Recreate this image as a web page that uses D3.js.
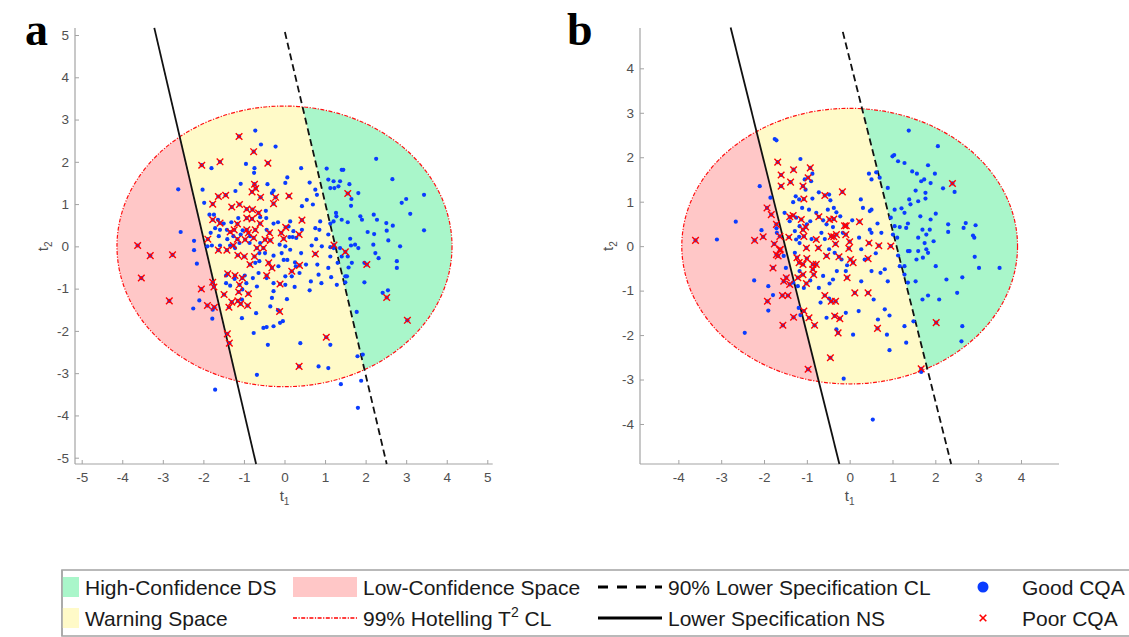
<!DOCTYPE html>
<html>
<head>
<meta charset="utf-8">
<script src="https://cdn.jsdelivr.net/npm/d3@7"></script>
<style>
  body { margin: 0; background: #fff; }
  svg { display: block; font-family: "Liberation Sans", Arial, sans-serif; }
</style>
</head>
<body>
<svg id="chart" width="1129" height="637"></svg>
<script>
// ---- data ----
const xTicksA = [-5, -4, -3, -2, -1, 0, 1, 2, 3, 4, 5];
const yTicksA = [-5, -4, -3, -2, -1, 0, 1, 2, 3, 4, 5];
const xTicksB = [-4, -3, -2, -1, 0, 1, 2, 3, 4];
const yTicksB = [-4, -3, -2, -1, 0, 1, 2, 3, 4];

// 99% Hotelling T2 ellipse half-axes [t1, t2]
const ellipseA = [4.13, 3.32];
const ellipseB = [3.92, 3.10];

// line end points [t1, t2]
const nsLineA = [[-3.21, 5.17], [-0.70, -5.15]];
const clLineA = [[0.01, 5.07], [2.52, -5.15]];
const nsLineB = [[-2.78, 4.92], [-0.24, -4.90]];
const clLineB = [[-0.16, 4.82], [2.37, -4.90]];

const goodA = [
  [-2.62,1.35],[-2.56,0.34],[-2.23,0.13],[-2.23,-0.09],[-2.16,-0.41],[-2.10,-1.28],[-2.25,-1.47],[-1.77,-1.50],
  [-1.78,-1.71],[-1.71,-3.39],[-0.72,2.74],[-0.58,2.41],[-0.22,2.36],[-1.80,1.85],[-0.95,1.95],[-0.74,1.85],
  [-0.75,1.74],[0.07,1.63],[0.41,1.85],[-2.02,1.34],[-1.08,1.48],[-0.42,1.47],[0.02,1.50],[-0.27,1.32],
  [-1.21,1.31],[-0.31,1.26],[-1.98,1.03],[-0.46,0.84],[-1.14,0.67],[-1.85,0.75],[-1.74,0.75],[-1.64,0.63],
  [-1.50,0.54],[-1.31,0.57],[-1.42,0.39],[-1.59,0.39],[-1.71,0.43],[-1.82,0.32],[-1.62,0.24],[-1.41,0.17],
  [-1.26,0.24],[-1.08,0.28],[-1.03,0.38],[-0.85,0.24],[-1.22,-0.04],[-1.79,0.02],[-1.90,0.00],[-1.59,0.02],
  [-1.34,0.02],[-1.11,0.08],[-0.86,0.08],[-0.60,0.08],[-0.44,0.39],[-0.27,0.54],[-0.45,0.67],[-0.60,0.69],
  [-0.16,0.57],[0.14,0.59],[0.10,0.47],[0.22,0.36],[0.29,0.20],[0.12,0.22],[0.20,0.22],[-0.12,0.04],
  [0.02,0.00],[0.43,0.39],[0.43,0.95],[0.55,1.10],[0.70,0.99],[0.62,1.51],[0.76,1.34],[0.80,1.22],
  [0.41,-0.16],[0.67,0.02],[0.78,0.17],[0.86,0.39],[0.88,0.59],[0.76,0.43],[1.08,0.28],[1.13,-0.02],
  [0.92,0.00],[1.13,-0.24],[0.81,-0.43],[1.08,-0.51],[0.53,-0.43],[0.14,-0.08],[-0.07,-0.16],[-0.27,-0.22],
  [-0.48,-0.16],[-0.62,-0.16],[-0.72,-0.39],[-0.62,-0.35],[-0.02,-0.32],[0.07,-0.32],[0.26,-0.38],[0.28,-0.47],
  [-0.15,-0.47],[0.02,-0.71],[0.18,-0.71],[0.37,-0.63],[0.84,-0.67],[1.15,-0.73],[0.91,-0.87],[0.65,-0.83],
  [0.62,-1.04],[0.25,-0.96],[-0.44,-0.75],[-0.64,-0.63],[-0.78,-0.75],[-0.98,-0.69],[-1.23,-0.77],[-1.44,-0.69],
  [-1.44,-0.87],[-1.34,-0.93],[-0.94,-0.87],[-0.68,-0.95],[-0.27,-0.87],[0.02,-0.91],[-0.27,-1.06],[-0.31,-1.22],
  [0.06,-1.25],[-1.04,-1.02],[-1.05,-1.26],[-0.35,-1.42],[-0.70,-1.58],[-1.05,-1.70],[-0.16,-1.51],[-0.04,-1.77],
  [-0.11,-1.81],[-0.52,-1.93],[-0.44,-1.91],[-0.27,-1.89],[-0.76,-2.05],[-0.41,-2.33],[0.39,-2.29],[0.84,-2.84],
  [1.08,-2.88],[-0.68,-3.04],[1.13,-2.33],
  [2.26,2.07],[1.04,1.84],[1.41,1.81],[1.45,1.81],[2.66,1.59],[1.08,1.58],[1.13,1.38],[1.21,1.54],
  [1.37,1.54],[1.60,1.47],[1.23,1.38],[1.33,1.42],[1.82,1.26],[1.65,1.12],[1.64,0.96],[2.89,1.03],
  [3.00,1.12],[3.44,1.22],[3.10,0.77],[1.27,0.79],[1.28,0.71],[1.21,0.59],[1.13,0.54],[1.41,0.63],
  [1.56,0.57],[1.87,0.71],[1.91,0.63],[2.20,0.75],[2.28,0.63],[2.51,0.55],[2.67,0.49],[2.05,0.34],
  [2.21,0.29],[2.52,0.37],[3.44,0.38],[2.56,0.14],[2.19,0.04],[2.85,0.00],[1.62,0.18],[1.64,0.02],
  [1.74,0.04],[1.82,-0.04],[1.37,-0.04],[1.21,-0.04],[1.56,-0.24],[1.41,-0.24],[2.24,-0.16],[2.32,-0.28],
  [2.77,-0.35],[2.77,-0.51],[1.97,-0.39],[1.66,-0.39],[1.58,-0.50],[1.31,-0.39],[1.50,-0.71],[1.54,-0.71],
  [1.50,-0.85],[1.97,-0.85],[1.29,-0.91],[2.42,-1.10],[2.55,-1.04],[1.78,-1.55],[1.80,-2.60],[1.93,-2.56],
  [1.39,-3.26],[1.89,-3.18],[1.81,-3.82]
];

const poorA = [
  [-3.62,0.02],[-3.31,-0.22],[-2.76,-0.20],[-3.53,-0.75],[-2.84,-1.29],[-1.12,2.60],[-2.04,1.92],[-1.59,2.00],
  [-0.76,2.24],[-0.41,1.97],[-1.77,1.00],[-1.63,1.18],[-1.45,1.21],[-0.74,1.47],[-0.71,1.37],[-0.80,1.29],
  [-0.59,1.16],[-0.22,1.16],[-0.27,1.01],[0.11,1.19],[-1.30,0.93],[-1.11,0.99],[-0.93,0.88],[-0.79,0.87],
  [-0.64,0.79],[-1.77,0.63],[-1.59,0.55],[-1.16,0.53],[-0.93,0.67],[-0.80,0.65],[-0.60,0.54],[-0.93,0.39],
  [-0.89,0.32],[-0.72,0.39],[-1.24,0.39],[-1.34,0.34],[-1.89,0.17],[-1.63,-0.09],[-1.42,-0.09],[-1.26,0.02],
  [-1.16,0.17],[-0.97,0.16],[-0.76,0.20],[-0.68,-0.04],[-0.52,-0.04],[-0.48,0.16],[-0.35,0.14],[-0.37,0.32],
  [0.03,0.45],[-0.08,0.32],[-0.02,0.18],[0.43,0.62],[0.36,0.28],[-0.74,-0.24],[-1.15,-0.21],[-0.99,-0.24],
  [-0.85,-0.43],[-0.39,-0.39],[-0.31,-0.51],[-1.40,-0.65],[-1.22,-0.69],[-1.04,-0.75],[-0.44,-0.69],[0.18,-0.59],
  [0.37,-0.45],[0.76,-0.18],[-0.11,-0.89],[-1.11,-0.91],[-1.77,-0.85],[-1.74,-0.96],[-2.05,-1.01],[-1.49,-1.14],
  [-1.13,-1.08],[-0.89,-1.12],[-1.90,-1.40],[-1.73,-1.44],[-1.30,-1.32],[-1.15,-1.29],[-1.08,-1.36],[-0.91,-1.40],
  [-1.37,-1.44],[-0.12,-1.54],[-1.41,-2.07],[-1.36,-2.29],[1.03,-2.15],[0.36,-2.84],[1.22,0.03],[1.50,-0.13],
  [1.56,1.25],[2.03,-0.43],[2.52,-1.21],[3.03,-1.75]
];

const goodB = [
  [-2.66,0.55],[-3.10,0.15],[-2.10,1.35],[-2.06,0.36],[-2.23,-0.77],[-1.90,-0.90],[-1.90,-1.45],[-2.45,-1.95],
  [-1.79,-1.10],[-1.75,2.41],[-1.71,2.38],[-1.85,1.09],[-1.71,0.40],[-1.70,0.30],[-1.49,-0.49],[-1.54,-0.22],
  [-1.15,1.96],[-1.05,1.50],[-0.87,1.63],[-0.90,1.46],[-1.03,1.27],[-1.26,1.12],[-1.18,1.05],[-1.11,0.86],
  [-0.87,1.07],[-0.72,1.21],[-0.48,1.16],[-0.45,1.03],[-0.37,0.86],[-0.51,0.82],[-0.31,0.76],[-1.32,0.99],
  [-1.52,0.75],[-1.40,0.56],[-1.25,0.64],[-0.95,0.82],[-0.78,0.75],[-0.92,0.56],[-1.00,0.49],[-1.17,0.45],
  [-1.28,0.34],[-1.18,0.21],[-1.25,0.15],[-1.17,0.07],[-0.89,0.16],[-0.62,0.58],[-0.54,0.49],[-0.39,0.43],
  [-0.66,0.30],[-0.58,0.16],[-0.48,-0.07],[-0.35,-0.15],[-0.16,0.30],[-0.22,0.67],[0.06,0.58],[-0.09,-0.56],
  [-0.06,-0.43],[-0.19,-0.30],[-0.30,-0.56],[-0.39,-0.75],[-0.47,-0.84],[-0.62,-0.67],[-0.72,-0.94],[-1.28,-0.15],
  [-1.17,-0.56],[-1.32,-0.82],[-1.21,-0.90],[-1.07,-0.94],[-0.92,-0.77],[-0.68,-1.27],[-0.48,-1.18],[-0.09,-1.50],
  [-0.54,-1.61],[-0.31,-1.87],[0.08,-1.99],[-0.14,-2.98],[-1.19,-1.39],[-1.15,-1.55],[0.26,1.05],[0.31,0.86],
  [0.47,0.79],[0.51,0.82],[0.22,0.19],[0.27,-0.07],[0.35,-0.30],[0.27,-0.79],[0.51,-0.56],[0.61,-0.16],
  [0.51,0.30],[0.65,0.51],[0.74,0.30],[0.47,0.37],[0.82,-0.52],[0.72,-0.60],[0.89,-0.79],[0.56,-1.20],
  [0.21,-1.46],[0.82,-1.42],[0.93,-1.56],[0.66,-1.65],[0.87,-1.99],[0.93,-2.34],[0.54,-3.90],[1.32,-2.17],
  [1.28,-1.80],[1.67,-2.83],
  [1.38,2.60],[2.06,2.25],[1.00,2.02],[1.04,2.05],[1.13,1.91],[1.28,1.87],[1.46,1.68],[1.57,1.63],
  [1.83,1.82],[1.99,1.63],[2.18,1.30],[2.45,1.22],[0.62,1.66],[0.45,1.63],[0.51,1.50],[0.70,1.54],
  [0.89,1.31],[1.74,1.50],[1.89,1.42],[1.67,1.46],[1.77,1.20],[1.54,1.25],[1.39,1.05],[1.42,0.94],
  [1.60,1.01],[1.77,1.07],[2.01,0.73],[1.89,0.60],[1.65,0.67],[1.21,0.85],[1.28,0.75],[1.05,0.82],
  [1.36,0.51],[1.32,0.41],[1.17,0.43],[1.05,0.45],[0.96,0.64],[1.01,0.26],[1.11,0.19],[1.60,0.19],
  [1.70,0.37],[1.87,0.37],[1.79,0.26],[1.96,0.11],[1.75,0.07],[2.30,0.49],[2.30,0.32],[2.66,0.41],
  [2.71,0.52],[2.94,0.47],[2.88,0.24],[2.91,0.19],[2.92,-0.24],[3.02,-0.49],[3.50,-0.49],[2.01,-0.45],
  [1.36,-0.11],[1.40,-0.11],[1.60,-0.11],[1.79,-0.07],[1.83,-0.15],[1.71,-0.26],[1.56,-0.30],[1.13,-0.21],
  [1.17,-0.45],[1.28,-0.45],[1.28,-0.64],[1.36,-0.82],[1.54,-0.79],[2.26,-0.75],[2.63,-0.70],[2.51,-1.05],
  [1.70,-1.20],[1.83,-1.11],[2.09,-1.20],[1.49,-1.69],[2.63,-1.80],[2.61,-2.14]
];

const poorB = [
  [-3.60,0.13],[-2.22,0.13],[-2.02,0.21],[-1.93,0.86],[-1.83,0.71],[-1.68,1.89],[-1.60,1.60],[-1.60,1.35],
  [-1.38,1.44],[-1.31,1.72],[-1.09,1.35],[-0.97,1.54],[-0.92,1.76],[-1.07,1.06],[-1.71,0.49],[-1.76,0.05],
  [-1.63,0.22],[-1.40,0.66],[-1.32,0.69],[-1.63,-0.09],[-1.71,-0.19],[-1.67,-0.22],[-1.79,-0.49],[-1.62,-0.07],
  [-1.42,0.20],[-1.09,0.37],[-1.03,0.43],[-1.13,0.60],[-1.01,-0.04],[-1.07,0.22],[-0.78,0.15],[-0.73,-0.04],
  [-1.23,-0.26],[-1.18,-0.37],[-1.09,-0.41],[-0.86,-0.41],[-0.78,-0.41],[-1.00,-0.28],[-0.86,-0.52],[-0.84,-0.64],
  [-1.09,-0.64],[-1.01,-0.84],[-1.21,-0.71],[-1.48,-0.71],[-1.54,-0.79],[-1.40,-0.86],[-1.57,-1.11],[-1.44,-1.11],
  [-1.92,-1.24],[-1.56,-1.78],[-1.31,-1.60],[-1.07,-1.46],[-0.95,-1.61],[-0.82,-1.78],[-0.58,1.14],[-0.72,0.66],
  [-0.47,0.60],[-0.37,0.61],[-0.17,1.22],[-0.12,0.46],[-0.08,0.46],[-0.09,0.26],[0.00,0.10],[-0.02,-0.05],
  [0.02,-0.30],[0.08,-0.37],[-0.33,0.05],[-0.37,0.21],[-0.43,0.22],[-0.31,0.26],[-0.54,-0.22],[-0.25,-0.24],
  [-0.06,-0.71],[-0.43,-1.24],[-0.33,-1.24],[-0.58,-1.11],[-0.35,-1.57],[-0.23,-1.63],[-0.27,-1.95],[-0.45,-2.51],
  [-0.97,-2.77],[0.23,0.55],[0.45,0.07],[0.43,-0.28],[0.68,0.01],[0.96,0.00],[0.12,-1.05],[0.43,-1.05],
  [0.65,-1.85],[2.40,1.41],[2.02,-1.72],[1.67,-2.76]
];

const legendItems = [
  { label: 'High-Confidence DS', kind: 'fill', color: '#a9f6ca', col: 0, row: 0 },
  { label: 'Warning Space', kind: 'fill', color: '#fffac8', col: 0, row: 1 },
  { label: 'Low-Confidence Space', kind: 'fill', color: '#ffc7c7', col: 1, row: 0 },
  { label: '99% Hotelling T', sup: '2', tail: ' CL', kind: 'dashdot', color: '#ff0000', col: 1, row: 1 },
  { label: '90% Lower Specification CL', kind: 'dashed', color: '#000', col: 2, row: 0 },
  { label: 'Lower Specification NS', kind: 'solid', color: '#000', col: 2, row: 1 },
  { label: 'Good CQA', kind: 'dot', color: '#0a3cff', col: 3, row: 0 },
  { label: 'Poor CQA', kind: 'cross', color: '#ff0000', col: 3, row: 1 }
];

// ---- drawing ----
const svg = d3.select('#chart');
svg.append('rect').attr('width', 1129).attr('height', 637).attr('fill', '#fff');

const colors = {
  low: '#ffc7c7', warn: '#fffac8', high: '#a9f6ca',
  good: '#0a3cff', poor: '#ff0000', axis: '#a3a3a3', tick: '#505050'
};

const panels = [
  { tag: 'a', tagX: 25, left: 75, right: 492.7, xDom: [-5.165, 5.133], yDom: [-5.149, 5.166],
    xTicks: xTicksA, yTicks: yTicksA, ell: ellipseA, ns: nsLineA, cl: clLineA, good: goodA, poor: poorA },
  { tag: 'b', tagX: 567, left: 640, right: 1059, xDom: [-4.896, 4.888], yDom: [-4.90, 4.907],
    xTicks: xTicksB, yTicks: yTicksB, ell: ellipseB, ns: nsLineB, cl: clLineB, good: goodB, poor: poorB }
];

const plotTop = 28, plotBottom = 464;
const crossPath = 'M-3.3,-3.3L3.3,3.3M-3.3,3.3L3.3,-3.3';
const fmt = d => String(d);   // plain hyphen minus, as in the figure

// x position of a line at a given t2 (extrapolated from its two end points)
function lineX(pts, y) {
  const [[x1, y1], [x2, y2]] = pts;
  return x1 + (y - y1) * (x2 - x1) / (y2 - y1);
}

panels.forEach((p, i) => {
  const x = d3.scaleLinear().domain(p.xDom).range([p.left, p.right]);
  const y = d3.scaleLinear().domain(p.yDom).range([plotBottom, plotTop]);
  const g = svg.append('g');

  // clip regions to the ellipse
  const clipId = 'ell' + i;
  g.append('clipPath').attr('id', clipId)
    .append('ellipse')
      .attr('cx', x(0)).attr('cy', y(0))
      .attr('rx', x(p.ell[0]) - x(0)).attr('ry', y(0) - y(p.ell[1]));

  const Y = 12;
  const regions = [
    { c: colors.low, pts: [[-20, -Y], [-20, Y], [lineX(p.ns, Y), Y], [lineX(p.ns, -Y), -Y]] },
    { c: colors.warn, pts: [[lineX(p.ns, Y), Y], [lineX(p.cl, Y), Y], [lineX(p.cl, -Y), -Y], [lineX(p.ns, -Y), -Y]] },
    { c: colors.high, pts: [[lineX(p.cl, Y), Y], [20, Y], [20, -Y], [lineX(p.cl, -Y), -Y]] }
  ];
  g.append('g').attr('clip-path', `url(#${clipId})`)
    .selectAll('path').data(regions).join('path')
      .attr('d', d => 'M' + d.pts.map(q => [x(q[0]), y(q[1])].join(',')).join('L') + 'Z')
      .attr('fill', d => d.c);

  g.append('ellipse')
    .attr('cx', x(0)).attr('cy', y(0))
    .attr('rx', x(p.ell[0]) - x(0)).attr('ry', y(0) - y(p.ell[1]))
    .attr('fill', 'none').attr('stroke', '#ff1010').attr('stroke-width', 1.2)
    .attr('stroke-dasharray', '4,1.5,1.2,1.5');

  // axes (MATLAB style, ticks inside)
  const ax = g.append('g').attr('transform', `translate(0,${plotBottom})`)
    .call(d3.axisBottom(x).tickValues(p.xTicks).tickFormat(fmt)
      .tickSizeInner(-4).tickSizeOuter(0).tickPadding(8));
  const ay = g.append('g').attr('transform', `translate(${p.left},0)`)
    .call(d3.axisLeft(y).tickValues(p.yTicks).tickFormat(fmt)
      .tickSizeInner(-4).tickSizeOuter(0).tickPadding(6));
  [ax, ay].forEach(a => {
    a.select('.domain').attr('stroke', colors.axis).attr('stroke-width', 1.2);
    a.selectAll('.tick line').attr('stroke', colors.axis);
    a.selectAll('.tick text').attr('fill', colors.tick).attr('font-size', 13.5)
      .attr('font-family', '"Liberation Sans", Arial, sans-serif');
  });
  ax.select('.domain').attr('d', `M${p.left},0H${p.right}`);
  ay.select('.domain').attr('d', `M0,${plotTop}V${plotBottom}`);

  // specification lines
  const line = d3.line().x(d => x(d[0])).y(d => y(d[1]));
  g.append('path').attr('d', line(p.ns)).attr('fill', 'none')
    .attr('stroke', '#111').attr('stroke-width', 1.8);
  g.append('path').attr('d', line(p.cl)).attr('fill', 'none')
    .attr('stroke', '#111').attr('stroke-width', 1.8).attr('stroke-dasharray', '7,4');

  // samples
  g.append('g').selectAll('circle').data(p.good.concat(p.poor)).join('circle')
    .attr('cx', d => x(d[0])).attr('cy', d => y(d[1])).attr('r', 2.1)
    .attr('fill', colors.good);
  g.append('g').selectAll('path').data(p.poor).join('path')
    .attr('transform', d => `translate(${x(d[0])},${y(d[1])})`)
    .attr('d', crossPath).attr('fill', 'none')
    .attr('stroke', colors.poor).attr('stroke-width', 1.4);

  // axis titles
  const xl = g.append('text').attr('x', x(0)).attr('y', 501)
    .attr('text-anchor', 'middle').attr('fill', colors.tick).attr('font-size', 15);
  xl.append('tspan').text('t');
  xl.append('tspan').attr('dy', 4).attr('font-size', 10).text('1');
  const yl = g.append('text').attr('transform', `translate(${p.left - 27},${y(0)}) rotate(-90)`)
    .attr('text-anchor', 'middle').attr('fill', colors.tick).attr('font-size', 15);
  yl.append('tspan').text('t');
  yl.append('tspan').attr('dy', 4).attr('font-size', 10).text('2');

  // panel tag
  g.append('text').attr('x', p.tagX).attr('y', 45).text(p.tag)
    .attr('font-family', '"Liberation Serif", "Times New Roman", serif')
    .attr('font-weight', 'bold').attr('font-size', 46).attr('fill', '#000');
});

// ---- legend (cropped box, as in the figure) ----
const lg = svg.append('g');
const legLeft = 62;
lg.append('clipPath').attr('id', 'legclip')
  .append('rect').attr('x', legLeft).attr('y', 560).attr('width', 1129 - legLeft).attr('height', 77);
lg.append('rect').attr('x', legLeft).attr('y', 570).attr('width', 1100).attr('height', 66)
  .attr('fill', '#fff').attr('stroke', '#a8a8a8').attr('stroke-width', 1.6);

const colX = [15, 293, 598, 983];
const textX = [85, 363, 668, 1022];
const rowY = [587, 618];

const li = lg.append('g').attr('clip-path', 'url(#legclip)')
  .selectAll('g.item').data(legendItems).join('g').attr('class', 'item');
li.each(function(d) {
  const s = d3.select(this);
  const cx = colX[d.col], cy = rowY[d.row];
  if (d.kind === 'fill') {
    s.append('rect').attr('x', cx).attr('y', cy - 10).attr('width', 64).attr('height', 20).attr('fill', d.color);
  } else if (d.kind === 'dot') {
    s.append('circle').attr('cx', cx).attr('cy', cy).attr('r', 5.5).attr('fill', d.color);
  } else if (d.kind === 'cross') {
    s.append('path').attr('transform', `translate(${cx},${cy})`).attr('d', crossPath)
      .attr('stroke', d.color).attr('stroke-width', 1.6).attr('fill', 'none');
  } else {
    const ln = s.append('line').attr('x1', cx).attr('x2', cx + 64).attr('y1', cy).attr('y2', cy)
      .attr('stroke', d.color);
    if (d.kind === 'dashed') ln.attr('stroke-width', 3).attr('stroke-dasharray', '10,9');
    if (d.kind === 'solid') ln.attr('stroke-width', 3);
    if (d.kind === 'dashdot') ln.attr('stroke-width', 1.6).attr('stroke-dasharray', '4,1.5,1.2,1.5');
  }
  const t = s.append('text').attr('x', textX[d.col]).attr('y', cy + 8)
    .attr('font-size', 21).attr('fill', '#1a1a1a');
  t.append('tspan').text(d.label);
  if (d.sup) {
    t.append('tspan').attr('dy', -9).attr('font-size', 14).text(d.sup);
    t.append('tspan').attr('dy', 9).text(d.tail);
  }
});
// redraw the left border on top of the swatches
lg.append('line').attr('x1', legLeft).attr('x2', legLeft).attr('y1', 570).attr('y2', 636)
  .attr('stroke', '#a8a8a8').attr('stroke-width', 1.6);
</script>
</body>
</html>
